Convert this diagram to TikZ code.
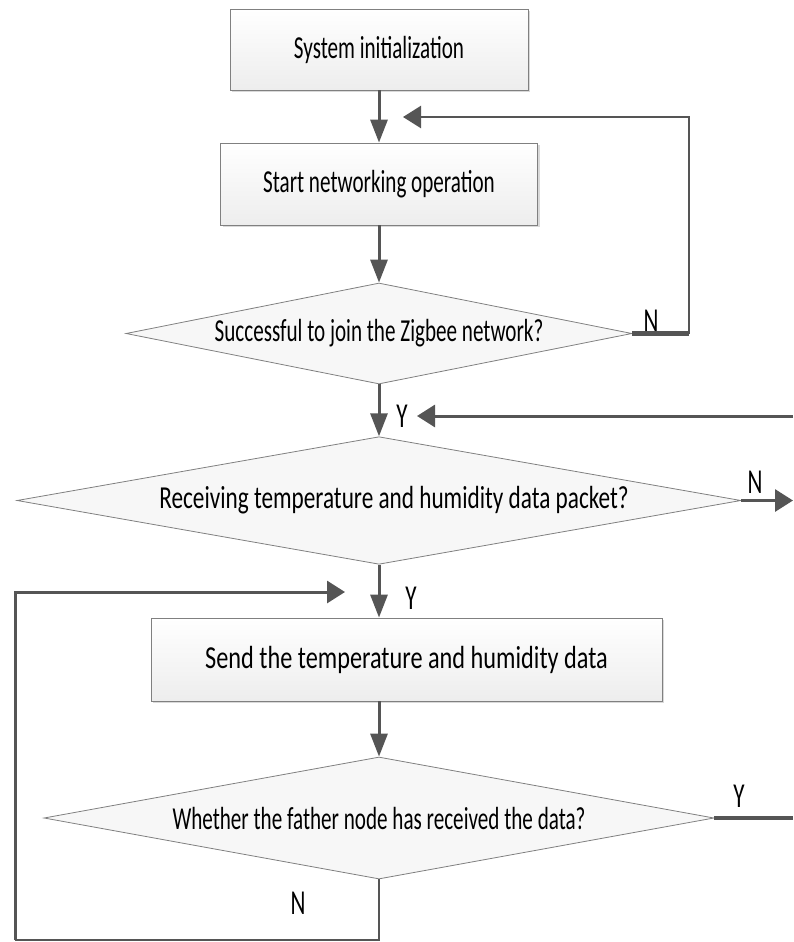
\documentclass[tikz,border=0pt]{standalone}
\usepackage{fontspec}
\setmainfont{Carlito}[FakeStretch=0.66]
\usetikzlibrary{shapes.geometric,arrows.meta,shadows}
\definecolor{conncol}{HTML}{555555}
\definecolor{edgecol}{HTML}{808080}
\definecolor{fillbot}{HTML}{EDEDED}
\definecolor{diafill}{HTML}{F7F7F7}
\begin{document}
\begin{tikzpicture}[x=1pt,y=-1pt,
  txt/.style={font=\fontsize{32}{36}\selectfont},
  procbox/.style={txt, draw=edgecol, line width=0.8pt, top color=white, bottom color=fillbot,
    inner sep=0pt, drop shadow={shadow xshift=2pt, shadow yshift=-2pt, fill=black, opacity=0.15}},
  decision/.style={txt, diamond, aspect=5, draw=edgecol, line width=0.8pt, fill=diafill, inner sep=0pt},
  conn/.style={draw=conncol, line width=3pt},
  thinconn/.style={draw=conncol, line width=1.5pt},
  stubconn/.style={draw=conncol, line width=4.5pt},
  varrow/.style={conn, -{Triangle[length=23pt,width=17pt]}},
  harrow/.style={conn, -{Triangle[length=18pt,width=22pt]}},
  lbl/.style={font=\fontsize{35}{38}\selectfont, inner sep=0pt}]
\useasboundingbox (0,0) rectangle (793,942);

% shapes
\node[procbox, minimum width=298pt, minimum height=81pt] (b1) at (379,49.5) {System initialization};
\node[procbox, minimum width=317pt, minimum height=82pt] (b2) at (379,184) {Start networking operation};
\node[decision, minimum width=506pt, minimum height=101pt] (d1) at (379,333.5) {Successful to join the Zigbee network?};
\node[decision, minimum width=724pt, minimum height=127pt] (d2) at (379,500.5) {\hspace*{30pt}\scalebox{1.1}[1]{Receiving temperature and humidity data packet?}};
\node[procbox, minimum width=511pt, minimum height=83pt] (b3) at (406.5,659.5) {\scalebox{1.15}[1]{Send the temperature and humidity data}};
\node[decision, minimum width=670pt, minimum height=122pt] (d3) at (379,818) {Whether the father node has received the data?};

% labels
\node[lbl] (n1) at (651,321) {N};
\node[lbl] (y1) at (402,416) {Y};
\node[lbl] (n2) at (755,482) {N};
\node[lbl] (y2) at (411,598) {Y};
\node[lbl] (y3) at (739,796) {Y};
\node[lbl] (n3) at (298,903) {N};

% coordinates
\coordinate (fbstub) at (689,333.5);
\coordinate (fbc) at (689,117);
\coordinate (fbtip) at (403,117);
\coordinate (rin) at (793,416);
\coordinate (rintip) at (417,416);
\coordinate (rout) at (793,500.5);
\coordinate (ry) at (793,818);
\coordinate (lb) at (379,940);
\coordinate (ll) at (15,940);
\coordinate (lt) at (15,592);
\coordinate (ltip) at (345,592);

% connectors
\draw[varrow] (b1.south) -- (b2.north);
\draw[varrow] (b2.south) -- (d1.north);
\draw[stubconn] (d1.east) -- (fbstub);
\draw[harrow, line width=2.5pt] (fbstub) -- (fbc) -- (fbtip);
\draw[varrow] (d1.south) -- (d2.north);
\draw[harrow] (rin) -- (rintip);
\draw[harrow] (d2.east) -- (rout);
\draw[varrow] (d2.south) -- (d2.south |- b3.north);
\draw[varrow] (d3.north |- b3.south) -- (d3.north);
\draw[stubconn] (d3.east) -- (ry);
\draw[thinconn] (d3.south) -- (lb) -- (ll);
\draw[harrow] (ll) -- (lt) -- (ltip);
\end{tikzpicture}
\end{document}
